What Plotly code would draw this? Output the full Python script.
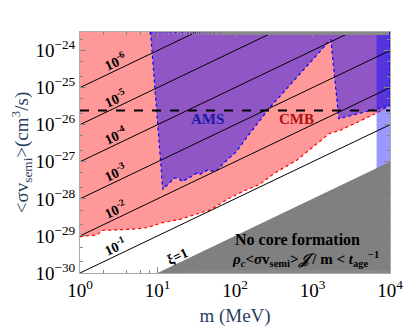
import numpy as np
import plotly.graph_objects as go

# CMB bound (lower edge of the pink region)
cmb_m = [1, 1.67, 1.93, 2.95, 4.53, 7.29, 11.7, 18.9, 30.3, 48.8, 78.5, 126, 203,
         327, 634, 1021, 1644, 2291, 3873, 6516, 10000]
cmb_sigma = [9.55e-30, 1.07e-29, 1.41e-29, 1.45e-29, 1.51e-29, 1.66e-29, 2.29e-29,
             2.75e-29, 3.8e-29, 5.13e-29, 9.55e-29, 1.58e-28, 2.4e-28, 5.0e-28,
             1.12e-27, 2.51e-27, 5.75e-27, 7.08e-27, 1.17e-26, 2.0e-26, 3.3e-26]

# AMS excluded region (closed polygon)
ams_m = [8.13, 11.7, 16.4, 18.5, 20.7, 25.1, 31.8, 35.0, 44.4, 54.6, 59.0, 74.8,
         104, 139, 283, 1722, 2188, 6840, 10000, 10000, 8.13]
ams_sigma = [3.2e-24, 1.78e-28, 3.6e-28, 3.7e-28, 2.95e-28, 3.6e-28, 4.9e-28,
             4.5e-28, 6.0e-28, 5.5e-28, 6.0e-28, 1.0e-27, 1.86e-27, 4.3e-27,
             2.95e-26, 2.0e-24, 1.45e-26, 2.7e-26, 3.3e-26, 3.2e-24, 3.2e-24]

# blue band at high mass
band_m = [6714, 10000, 10000, 6714, 6714]
band_sigma = [2.0e-28, 2.0e-28, 3.2e-24, 3.2e-24, 2.0e-28]

# no core formation (xi = 1 boundary)
nocore_m = [10, 10000, 10000, 10]
nocore_sigma = [1e-30, 1e-27, 1e-30, 1e-30]

# constant-xi lines, endpoints at m = 1 MeV and m = 10 GeV
xi_labels = ["10<sup>-1</sup>", "10<sup>-2</sup>", "10<sup>-3</sup>",
             "10<sup>-4</sup>", "10<sup>-5</sup>", "10<sup>-6</sup>"]
xi_sigma_lo = [1e-30, 1e-29, 1e-28, 1e-27, 1e-26, 1e-25]
xi_sigma_hi = [1e-26, 1e-25, 1e-24, 1e-23, 1e-22, 1e-21]
xi_m = [1, 10000]

thermal_sigma = 2.4e-26
top_sigma = 3.2e-24

x_tickvals = [1, 10, 100, 1000, 10000]
x_ticktext = ["10<sup>0</sup>", "10<sup>1</sup>", "10<sup>2</sup>", "10<sup>3</sup>", "10<sup>4</sup>"]
y_tickvals = [1e-30, 1e-29, 1e-28, 1e-27, 1e-26, 1e-25, 1e-24]
y_ticktext = ["10<sup>−30</sup>", "10<sup>−29</sup>", "10<sup>−28</sup>", "10<sup>−27</sup>",
              "10<sup>−26</sup>", "10<sup>−25</sup>", "10<sup>−24</sup>"]

serif = "Liberation Serif, Times New Roman, Times, serif"

fig = go.Figure()

# pink CMB region
fig.add_trace(go.Scatter(
    x=cmb_m + [cmb_m[-1], cmb_m[0], cmb_m[0]],
    y=cmb_sigma + [top_sigma, top_sigma, cmb_sigma[0]],
    fill="toself", fillcolor="#ff9999", mode="none", hoverinfo="skip"))
fig.add_trace(go.Scatter(
    x=cmb_m, y=cmb_sigma, mode="lines",
    line=dict(color="red", width=1.2, dash="dot"), hoverinfo="skip"))

# AMS
fig.add_trace(go.Scatter(
    x=ams_m, y=ams_sigma, fill="toself", fillcolor="rgba(0,0,255,0.435)",
    mode="lines", line=dict(color="blue", width=1.2, dash="dot"), hoverinfo="skip"))

# band
fig.add_trace(go.Scatter(
    x=band_m, y=band_sigma, fill="toself", fillcolor="rgba(0,0,255,0.4)",
    mode="none", hoverinfo="skip"))

# no core formation
fig.add_trace(go.Scatter(
    x=nocore_m, y=nocore_sigma, fill="toself", fillcolor="#808080",
    mode="none", hoverinfo="skip"))

# xi lines
for lo, hi in zip(xi_sigma_lo, xi_sigma_hi):
    fig.add_trace(go.Scatter(
        x=xi_m, y=[lo, hi], mode="lines",
        line=dict(color="black", width=1), hoverinfo="skip"))

# thermal relic
fig.add_trace(go.Scatter(
    x=[xi_m[0], xi_m[-1]], y=[thermal_sigma, thermal_sigma], mode="lines",
    line=dict(color="black", width=2, dash="dash"), hoverinfo="skip"))

ang = -np.degrees(np.arctan((242 / 6.5) / (323 / 4)))
lx = 0.48
for lab, lo, hi in zip(xi_labels, xi_sigma_lo, xi_sigma_hi):
    slope = (np.log10(hi) - np.log10(lo)) / 4
    fig.add_annotation(x=lx, y=np.log10(lo) + slope * lx, text="<b>" + lab + "</b>",
                       showarrow=False, textangle=ang, yshift=9, xshift=-2,
                       font=dict(family=serif, size=14, color="black"))

fig.add_annotation(x=np.log10(18), y=np.log10(1.8e-30), text="<b>ξ=1</b>",
                   showarrow=False, textangle=ang, yshift=7,
                   font=dict(family=serif, size=14, color="black"))
fig.add_annotation(x=np.log10(44), y=np.log10(1.45e-26), text="<b>AMS</b>",
                   showarrow=False, font=dict(family=serif, size=15, color="#1a1aa8"))
fig.add_annotation(x=np.log10(630), y=np.log10(1.45e-26), text="<b>CMB</b>",
                   showarrow=False, font=dict(family=serif, size=15, color="#b31010"))
fig.add_annotation(x=np.log10(640), y=np.log10(8.1e-30), text="<b>No core formation</b>",
                   showarrow=False, font=dict(family=serif, size=16, color="black"))
fig.add_annotation(
    x=np.log10(820), y=np.log10(2.35e-30),
    text="<b><i>ρ<sub>c</sub></i>&lt;<i>σ</i>v<sub>semi</sub>&gt;<i>𝒥</i> / m &lt; <i>t</i><sub>age</sub><sup>−1</sup></b>",
    showarrow=False, font=dict(family=serif, size=15, color="black"))

axis_common = dict(
    type="log", showgrid=False, zeroline=False, ticks="inside", ticklen=6,
    tickcolor="#888", mirror="ticks", showline=True, linecolor="#aaa", linewidth=1,
    minor=dict(ticks="inside", ticklen=3, tickcolor="#888"),
    tickfont=dict(family=serif, size=19, color="black"),
)

fig.update_xaxes(axis_common, range=[0, 4], tickvals=x_tickvals, ticktext=x_ticktext,
                 title=dict(text="m (MeV)", font=dict(family=serif, size=19), standoff=8))
fig.update_yaxes(axis_common, range=[-30, -23.5], tickvals=y_tickvals, ticktext=y_ticktext,
                 title=dict(text="&lt;σv<sub>semi</sub>&gt;(cm<sup>3</sup>/s)",
                            font=dict(family=serif, size=19), standoff=2))

# page body adds ~8px offset, so the figure is sized to fit the window
fig.update_layout(
    width=407, height=326, showlegend=False,
    margin=dict(l=69, r=15, t=24, b=52),
    plot_bgcolor="white", paper_bgcolor="white",
    font=dict(family=serif),
)

fig.write_html("out.html")
